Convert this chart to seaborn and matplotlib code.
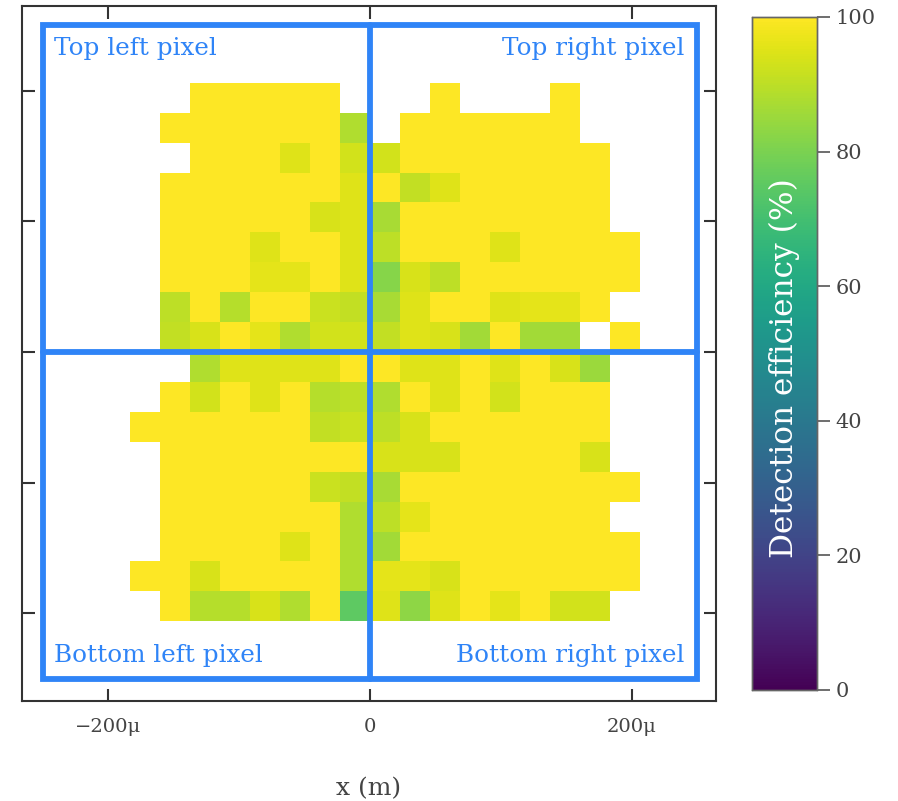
import numpy as np
import pandas as pd
import matplotlib
matplotlib.use("Agg")
import matplotlib.pyplot as plt
from matplotlib.patches import Rectangle
import seaborn as sns

N = None
# Detection efficiency (%) per scan cell; rows top -> bottom, columns left -> right
row_00 = [N, N, 100, 100, 100, 100, 100, N, N, N, 100, N, N, N, 100, N, N]
row_01 = [N, 100, 100, 100, 100, 100, 100, 88, N, 100, 100, 100, 100, 100, 100, N, N]
row_02 = [N, N, 100, 100, 100, 95, 100, 93, 93, 100, 100, 100, 100, 100, 100, 100, N]
row_03 = [N, 100, 100, 100, 100, 100, 100, 95, 100, 91, 95, 100, 100, 100, 100, 100, N]
row_04 = [N, 100, 100, 100, 100, 100, 94, 95, 87, 100, 100, 100, 100, 100, 100, 100, N]
row_05 = [N, 100, 100, 100, 95, 100, 100, 95, 90, 100, 100, 100, 95, 100, 100, 100, 100]
row_06 = [N, 100, 100, 100, 96, 96, 100, 95, 82, 94, 90, 100, 100, 100, 100, 100, 100]
row_07 = [N, 90, 100, 89, 100, 100, 92, 91, 87, 95, 100, 100, 95, 96, 96, 100, N]
row_08 = [N, 91, 94, 100, 96, 88, 93, 93, 91, 95, 94, 86, 100, 86, 86, N, 100]
row_09 = [N, N, 88, 95, 95, 95, 95, 100, 100, 95, 95, 100, 95, 100, 94, 85, N]
row_10 = [N, 100, 93, 100, 95, 100, 89, 90, 88, 100, 95, 100, 93, 100, 100, 100, N]
row_11 = [100, 100, 100, 100, 100, 100, 91, 92, 90, 94, 100, 100, 100, 100, 100, 100, N]
row_12 = [N, 100, 100, 100, 100, 100, 100, 100, 94, 94, 94, 100, 100, 100, 100, 94, N]
row_13 = [N, 100, 100, 100, 100, 100, 92, 91, 87, 100, 100, 100, 100, 100, 100, 100, 100]
row_14 = [N, 100, 100, 100, 100, 100, 100, 88, 90, 96, 100, 100, 100, 100, 100, 100, N]
row_15 = [N, 100, 100, 100, 100, 95, 100, 88, 86, 100, 100, 100, 100, 100, 100, 100, 100]
row_16 = [100, 100, 94, 100, 100, 100, 100, 88, 96, 96, 94, 100, 100, 100, 100, 100, 100]
row_17 = [N, 100, 89, 89, 94, 88, 100, 75, 95, 83, 95, 100, 96, 100, 93, 93, N]

rows = [row_00, row_01, row_02, row_03, row_04, row_05, row_06, row_07, row_08,
        row_09, row_10, row_11, row_12, row_13, row_14, row_15, row_16, row_17]

cell_um = 22.9          # scan step (µm)
first_col_index = -8    # left edge of first column in cells from x = 0
top_row_index = 9       # top edge of first row in cells from y = 0
pixel_edges = [-250, 0, 250]   # pixel boundaries (µm)
x_ticks_um = [-200, 0, 200]
x_tick_labels = ["\u2212200\u03bc", "0", "200\u03bc"]
y_ticks_um = [-200, -100, 0, 100, 200]
cbar_ticks = [0, 20, 40, 60, 80, 100]
quadrant_labels = ["Top left pixel", "Top right pixel", "Bottom left pixel", "Bottom right pixel"]

data = np.array([[np.nan if v is None else v for v in r] for r in rows], dtype=float)
df = pd.DataFrame(data)

def X(um):
    return um / cell_um - first_col_index

def Y(um):
    return top_row_index - um / cell_um

sns.set_style("white")
plt.rcParams["font.family"] = ["DejaVu Serif"]

fig = plt.figure(figsize=(8.98, 8.01), dpi=100)
ax = fig.add_axes([0.024, 0.125, 0.773, 0.8677])
cax = fig.add_axes([0.8374, 0.1386, 0.0724, 0.8402])

sns.heatmap(df, ax=ax, cbar_ax=cax, cmap="viridis", vmin=0, vmax=100,
            xticklabels=False, yticklabels=False)

ax.set_xlim(X(-266), X(264))
ax.set_ylim(Y(-267), Y(265))
ax.set_aspect("auto")

for s in ax.spines.values():
    s.set_visible(True)
    s.set_color("#333333")
    s.set_linewidth(1.5)

ax.set_xticks([X(v) for v in x_ticks_um])
ax.set_xticklabels(x_tick_labels)
ax.set_yticks([Y(v) for v in y_ticks_um])
ax.set_yticklabels([])
ax.tick_params(axis="both", which="major", direction="in", length=9, width=1.5,
               color="#333333", top=True, right=True, bottom=True, left=True,
               labelsize=14, labelcolor="#444444", pad=12)
ax.set_xlabel("x (m)", fontsize=18, color="#444444", labelpad=30)
ax.set_ylabel("")

blue = "#2f84f7"
x0, x1 = X(pixel_edges[0]), X(pixel_edges[2])
y0, y1 = Y(pixel_edges[2]), Y(pixel_edges[0])
ax.add_patch(Rectangle((x0, y0), x1 - x0, y1 - y0, fill=False, ec=blue, lw=4.2, zorder=5))
ax.plot([X(pixel_edges[1])] * 2, [y0, y1], color=blue, lw=4.2, zorder=5)
ax.plot([x0, x1], [Y(pixel_edges[1])] * 2, color=blue, lw=4.2, zorder=5)

fs = 17.7
ax.text(X(-241), Y(241), quadrant_labels[0], color=blue, fontsize=fs, ha="left", va="top", zorder=6)
ax.text(X(240), Y(241), quadrant_labels[1], color=blue, fontsize=fs, ha="right", va="top", zorder=6)
ax.text(X(-241), Y(-237), quadrant_labels[2], color=blue, fontsize=fs, ha="left", va="baseline", zorder=6)
ax.text(X(240), Y(-237), quadrant_labels[3], color=blue, fontsize=fs, ha="right", va="baseline", zorder=6)

cax.set_yticks(cbar_ticks)
cax.tick_params(axis="y", right=True, left=False, direction="out", length=9.5, width=1.2,
                color="#555555", labelsize=15, labelcolor="#444444", pad=4)
for s in cax.spines.values():
    s.set_visible(True)
    s.set_color("#666666")
    s.set_linewidth(1.0)
cb = ax.collections[0].colorbar
cb.outline.set_visible(True)
cb.outline.set_linewidth(1.0)
cb.outline.set_edgecolor("#666666")
cax.text(0.5, 0.478, "Detection efficiency (%)", rotation=90, color="white",
         ha="center", va="center", fontsize=22.5, transform=cax.transAxes)

fig.savefig("out.png", dpi=100)
